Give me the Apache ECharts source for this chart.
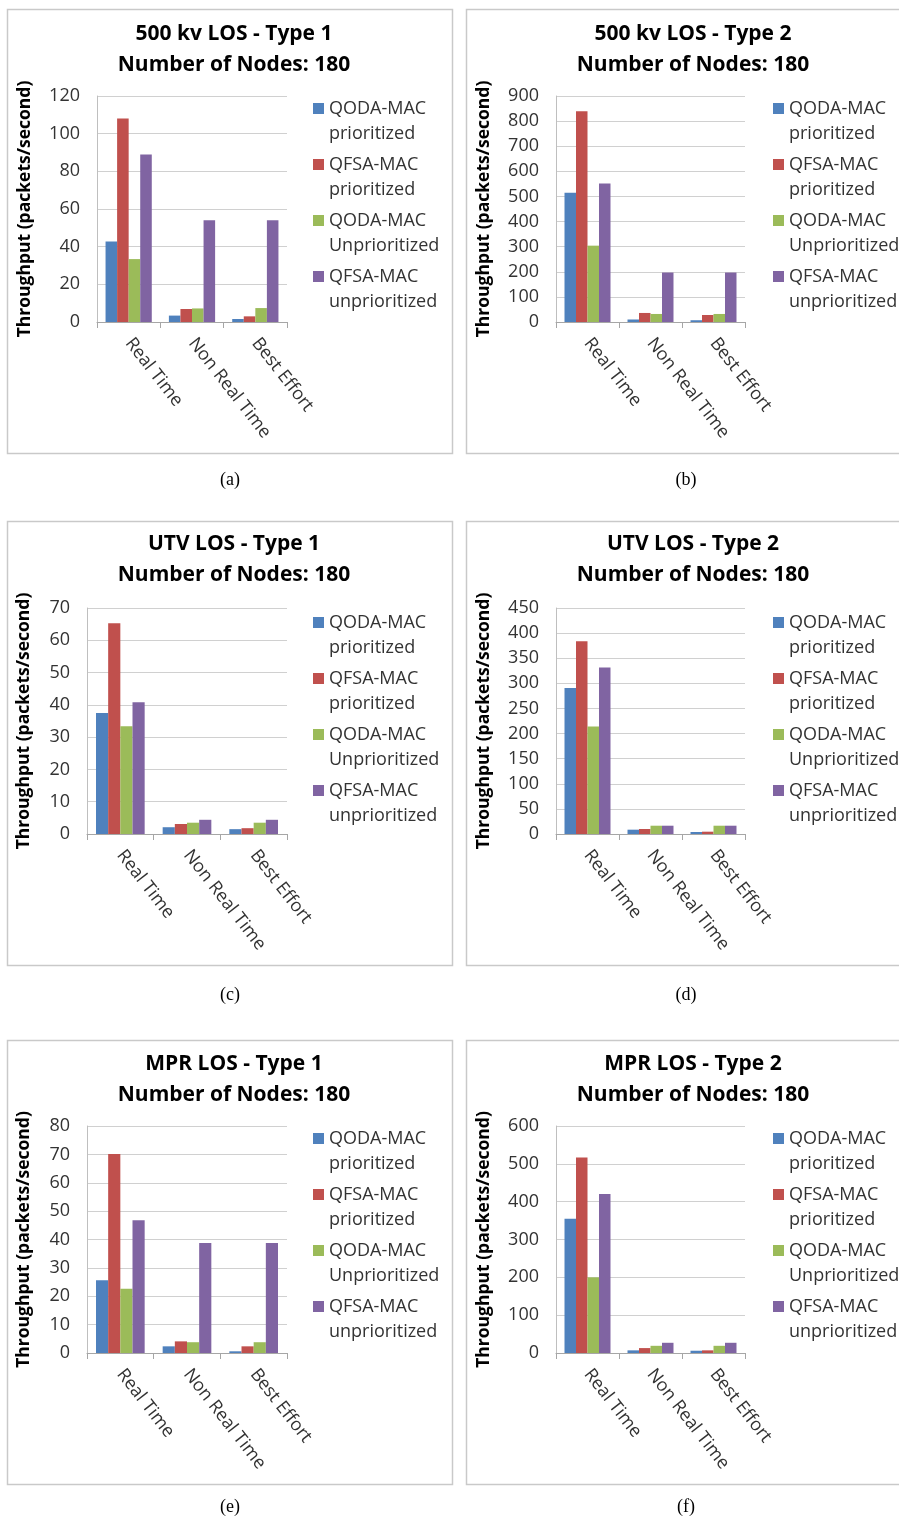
<!DOCTYPE html>
<html>
<head>
<meta charset="utf-8">
<script src="https://cdn.jsdelivr.net/npm/echarts@6/dist/echarts.min.js"></script>
<style>
html,body{margin:0;padding:0;background:#fff;}
#chart{width:899px;height:1519px;}
</style>
</head>
<body>
<div id="chart"></div>
<script>
// ---------- data ----------
const categories = ['Real Time', 'Non Real Time', 'Best Effort'];
const seriesNames = ['QODA-MAC prioritized', 'QFSA-MAC prioritized', 'QODA-MAC Unprioritized', 'QFSA-MAC unprioritized'];
const seriesColors = ['#4F81BD', '#C0504D', '#9BBB59', '#8064A2'];

const panelTitles = [
  '500 kv LOS - Type 1', '500 kv LOS - Type 2',
  'UTV LOS - Type 1', 'UTV LOS - Type 2',
  'MPR LOS - Type 1', 'MPR LOS - Type 2'
];
const panelCaptions = ['(a)', '(b)', '(c)', '(d)', '(e)', '(f)'];
const subTitle = 'Number of Nodes: 180';
const yAxisName = 'Throughput (packets/second)';

const yMax = [120, 900, 70, 450, 80, 600];
const yStep = [20, 100, 10, 50, 10, 100];

// rows: QODA-MAC prioritized, QFSA-MAC prioritized, QODA-MAC Unprioritized, QFSA-MAC unprioritized
const dataA = [[42.7, 3.4, 1.6], [108, 6.9, 3], [33.4, 7.2, 7.4], [88.9, 54, 54]];
const dataB = [[515, 10, 7], [839, 36, 28], [304, 32, 32], [552, 197, 197]];
const dataC = [[37.5, 2.1, 1.5], [65.3, 3.1, 1.8], [33.4, 3.5, 3.5], [40.8, 4.4, 4.4]];
const dataD = [[290.5, 8.6, 4], [384, 10, 4.6], [214, 16.5, 16.5], [331.6, 16.5, 16.5]];
const dataE = [[25.6, 2.35, 0.6], [70.1, 4.1, 2.35], [22.6, 3.8, 3.8], [46.8, 38.8, 38.8]];
const dataF = [[355, 7, 6], [517, 13, 7], [200, 19, 19], [420, 27, 27]];
const panelData = [dataA, dataB, dataC, dataD, dataE, dataF];

// ---------- layout ----------
const FONT = '"Open Sans", "Liberation Sans", sans-serif';
const grids = [
  {left: 97, top: 96, width: 190, height: 226},
  {left: 556, top: 96, width: 189, height: 226},
  {left: 87, top: 608, width: 200, height: 226},
  {left: 556, top: 608, width: 189, height: 226},
  {left: 87, top: 1126, width: 200, height: 227},
  {left: 556, top: 1126, width: 189, height: 227}
];
const nameGaps = [63, 63, 54, 63, 54, 63];
const titleCenters = [229, 688, 229, 688, 229, 688];
const titleTops = [14, 14, 524, 524, 1044, 1044];
const legendLefts = [313, 773, 313, 773, 313, 773];
const legendTops = [96, 96, 610, 610, 1126, 1126];
const captionPos = [[225, 466], [681, 466], [225, 981], [681, 981], [225, 1493], [681, 1493]];
const boxes = [
  [7.5, 9.5, 445, 444], [466.5, 9.5, 440, 444],
  [7.5, 521.5, 445, 444], [466.5, 521.5, 440, 444],
  [7.5, 1040.5, 445, 444], [466.5, 1040.5, 440, 444]
];

const option = {
  backgroundColor: '#ffffff',
  animation: false,
  title: [],
  legend: [],
  grid: [],
  xAxis: [],
  yAxis: [],
  series: [],
  graphic: []
};

boxes.forEach(b => {
  option.graphic.push({
    type: 'rect', shape: {x: b[0], y: b[1], width: b[2], height: b[3]},
    style: {fill: 'none', stroke: '#c9c9c9', lineWidth: 1.5}, silent: true, z: -10
  });
});

for (let p = 0; p < 6; p++) {
  option.title.push({
    text: panelTitles[p] + '\n' + subTitle,
    left: titleCenters[p], top: titleTops[p], textAlign: 'center',
    textStyle: {fontFamily: FONT, fontSize: 21, fontWeight: 'bold', color: '#000', lineHeight: 31}
  });
  option.title.push({
    text: panelCaptions[p],
    left: captionPos[p][0], top: captionPos[p][1], textAlign: 'center',
    textStyle: {fontFamily: '"Liberation Serif", "DejaVu Serif", serif', fontSize: 18, fontWeight: 'normal', color: '#000'}
  });
  option.legend.push({
    data: seriesNames,
    orient: 'vertical',
    left: legendLefts[p], top: legendTops[p],
    padding: 0,
    itemGap: 6,
    itemWidth: 11, itemHeight: 36,
    icon: 'path://M0,0H11V11H0Z M0,35.95H0.05V36H0Z',
    formatter: name => name.replace(' ', '\n'),
    selectedMode: false,
    textStyle: {fontFamily: FONT, fontSize: 18, lineHeight: 25, color: '#333333'}
  });
  option.grid.push(Object.assign({containLabel: false}, grids[p]));
  option.xAxis.push({
    type: 'category', gridIndex: p, data: categories,
    axisLine: {show: true, lineStyle: {color: '#a6a6a6', width: 1}},
    axisTick: {show: true, length: 6, lineStyle: {color: '#a6a6a6'}},
    axisLabel: {rotate: -52, margin: 18, fontFamily: FONT, fontSize: 18, color: '#333333', interval: 0},
    splitLine: {show: false}
  });
  option.yAxis.push({
    type: 'value', gridIndex: p, min: 0, max: yMax[p], interval: yStep[p],
    name: yAxisName, nameLocation: 'middle', nameGap: nameGaps[p], nameRotate: 90,
    nameTextStyle: {fontFamily: FONT, fontSize: 17.5, fontWeight: 'bold', color: '#000'},
    axisLine: {show: true, lineStyle: {color: '#bfbfbf', width: 1}},
    axisTick: {show: false},
    axisLabel: {margin: 17, fontFamily: FONT, fontSize: 18, color: '#333333'},
    splitLine: {show: true, lineStyle: {color: '#d0d0d0', width: 1}}
  });
  for (let s = 0; s < 4; s++) {
    option.series.push({
      type: 'bar', name: seriesNames[s],
      xAxisIndex: p, yAxisIndex: p,
      data: panelData[p][s],
      barGap: '0%', barCategoryGap: '27%',
      itemStyle: {color: seriesColors[s]}
    });
  }
}

const chart = echarts.init(document.getElementById('chart'), null, {renderer: 'canvas'});
chart.setOption(option);
</script>
</body>
</html>
